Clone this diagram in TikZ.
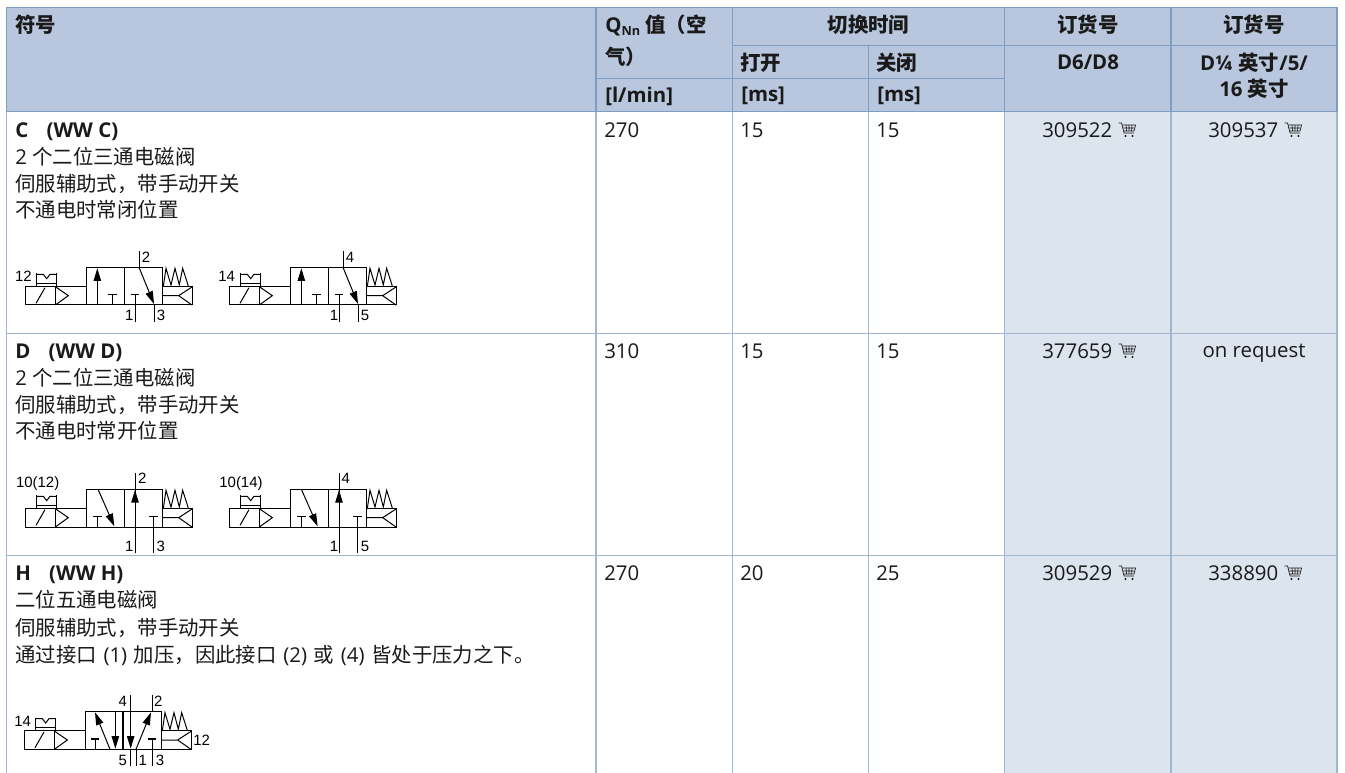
\documentclass[tikz,border=0pt]{standalone}
\usepackage{fontspec}
\usetikzlibrary{arrows.meta,calc}
\setmainfont{Open Sans}
\newfontfamily\cjk{Noto Sans CJK SC}
\newcommand{\zh}[1]{{\cjk #1}}
\newcommand{\gp}{\hspace{5pt}}
\definecolor{headfill}{HTML}{B8C7DD}
\definecolor{cellfill}{HTML}{DCE4EE}
\definecolor{headline}{HTML}{7F9DC2}
\definecolor{cellline}{HTML}{A0B6D3}
\definecolor{ink}{HTML}{1A1A1A}
\tikzset{
  hline/.style={draw=headline,line width=0.9pt},
  cline/.style={draw=cellline,line width=0.9pt},
  txt/.style={anchor=west,inner sep=0pt,text=ink,font=\fontsize{15.3}{18}\selectfont},
  htxt/.style={txt,font=\fontsize{15.3}{18}\selectfont\bfseries},
  hmid/.style={htxt,anchor=center,align=center},
  sym/.style={line width=0.75pt,draw=black,line join=miter},
  tbar/.style={line width=1.15pt,draw=black},
  arr/.style={sym,-{Stealth[inset=0pt,length=9.5pt,width=5.6pt]}},
  port/.style={inner sep=0pt,text=black,font=\fontsize{11.2}{13}\selectfont\fontspec{Liberation Sans}},
  cartline/.style={draw=ink,line width=0.5pt}
}
% solenoid + valve body + spring in crop units (1 unit = 1/3 px)
\newcommand{\vbase}[2]{%
 \begin{scope}[shift={(#1,#2)}]
  \draw[sym] (76,139) rectangle (258,195);
  \draw[sym] (166,139) -- (166,195);
  \draw[sym] (166,140) -- (205,167) -- (166,195);
  \draw[sym] (108,190) -- (135,143);
  \draw[sym] (110,100) -- (110,139) (170,100) -- (170,139) (110,130) -- (170,130);
  \draw[sym] (110,103) -- (130,103) -- (140,116) -- (150,103) -- (170,103);
  \draw[sym] (258,82) rectangle (486,195);
  \draw[sym] (372,82) -- (372,195);
  \draw[sym] (486,139) rectangle (576,195);
  \draw[sym] (486,167) -- (536,167) -- (576,141) (536,167) -- (576,195);
  \draw[sym] (490,139) -- (498,85) -- (513,135) -- (525,85) -- (538,135) -- (548,85) -- (564,135) -- (564,139);
 \end{scope}}
\newcommand{\cartat}[1]{%
 \begin{scope}[shift={#1},x=0.75pt,y=-0.75pt]
  \draw[cartline] (0,-7) -- (3,-7) -- (5.5,3) -- (15.5,3);
  \draw[cartline] (3.5,-5) -- (17,-5) -- (15.5,1) -- (5,1);
  \draw[cartline] (7.5,-5) -- (8,1) (10.5,-5) -- (10.5,1) (13.5,-5) -- (13,1) (4,-2) -- (16.2,-2);
  \fill[ink] (7,6) circle (0.9pt) (14,6) circle (0.9pt);
 \end{scope}}
\begin{document}
\begin{tikzpicture}[x=0.75pt,y=-0.75pt]
\useasboundingbox (0,0) rectangle (1345,773);
\fill[white] (0,0) rectangle (1345,773);
% fills
\fill[headfill] (6.5,7.5) rectangle (1337,111.5);
\fill[cellfill] (1004.5,111.5) rectangle (1337,773);
% body lines
\foreach \x in {6.5,596,732.5,868.5,1004.5,1171,1337} \draw[cline] (\x,111.5) -- (\x,773);
\foreach \y in {333.3,555.7} \draw[cline] (6.5,\y) -- (1337,\y);
% header lines
\draw[hline] (6.5,7.5) rectangle (1337,111.5);
\foreach \x in {596,732.5,1004.5,1171} \draw[hline] (\x,7.5) -- (\x,111.5);
\draw[hline] (868.5,45.5) -- (868.5,111.5);
\draw[hline] (732.5,45.5) -- (1337,45.5);
\draw[hline] (596,78.5) -- (1004.5,78.5);
% header text
\node[htxt] (h1) at (15,25) {\zh{符号}};
\node[htxt] (h2) at (605,25) {Q\raisebox{-0.3ex}{\fontsize{9.5}{10}\selectfont Nn} \zh{值（空}};
\node[htxt] (h2b) at (605,57) {\zh{气）}};
\node[htxt] (h3) at (605,96) {[l/min]};
\node[hmid] (h4) at (868.5,25) {\zh{切换时间}};
\node[htxt] (h5) at (740,63) {\zh{打开}};
\node[htxt] (h6) at (876,63) {\zh{关闭}};
\node[htxt] (h7) at (741,96) {[ms]};
\node[htxt] (h8) at (877,96) {[ms]};
\node[hmid] (h9) at (1088,25) {\zh{订货号}};
\node[hmid] (h10) at (1254,25) {\zh{订货号}};
\node[hmid] (h11) at (1088,62) {D6/D8};
\node[hmid] (h12) at (1254,63) {D¼ \zh{英寸}/5/};
\node[hmid] (h13) at (1254,89) {16 \zh{英寸}};
% row C
\node[htxt] (c0) at (15,131.5) {C\hspace{0.9em}(WW C)};
\node[txt] (c1) at (15,157) {2 \zh{个二位三通电磁阀}};
\node[txt] (c2) at (15,184) {\zh{伺服辅助式，带手动开关}};
\node[txt] (c3) at (15,210) {\zh{不通电时常闭位置}};
\node[txt] (cq) at (604,130) {270};
\node[txt] (ca) at (740,130) {15};
\node[txt] (cb) at (876,130) {15};
\node[txt] (co1) at (1042,130) {309522};
\node[txt] (co2) at (1208,130) {309537};
\cartat{($(co1.east)+(6,0)$)}
\cartat{($(co2.east)+(6,0)$)}
% row D
\node[htxt] (d0) at (15,352.5) {D\hspace{0.9em}(WW D)};
\node[txt] (d1) at (15,378) {2 \zh{个二位三通电磁阀}};
\node[txt] (d2) at (15,405) {\zh{伺服辅助式，带手动开关}};
\node[txt] (d3) at (15,431) {\zh{不通电时常开位置}};
\node[txt] (dq) at (604,351) {310};
\node[txt] (da) at (740,351) {15};
\node[txt] (db) at (876,351) {15};
\node[txt] (do1) at (1042,351) {377659};
\node[txt,anchor=base] (do2) at (1254,357.5) {on request};
\cartat{($(do1.east)+(6,0)$)}
% row H
\node[htxt] (e0) at (15,574.5) {H\hspace{0.9em}(WW H)};
\node[txt] (e1) at (15,600) {\zh{二位五通电磁阀}};
\node[txt] (e2) at (15,628) {\zh{伺服辅助式，带手动开关}};
\node[txt] (e3) at (15,655) {\zh{通过接口}\gp(1)\gp\zh{加压，因此接口}\gp(2)\gp\zh{或}\gp(4)\gp\zh{皆处于压力之下。}};
\node[txt] (eq) at (604,573) {270};
\node[txt] (ea) at (740,573) {20};
\node[txt] (eb) at (876,573) {25};
\node[txt] (eo1) at (1042,573) {309529};
\node[txt] (eo2) at (1208,573) {338890};
\cartat{($(eo1.east)+(6,0)$)}
\cartat{($(eo2.east)+(6,0)$)}
% symbol C1
\begin{scope}[shift={(0,240)},x=0.25pt,y=-0.25pt]
 \vbase{0}{0}
 \draw[arr] (292,195) -- (292,85);
 \draw[sym] (337,195) -- (337,163);
 \draw[tbar] (325,163) -- (350,163);
 \draw[tbar] (393,163) -- (418,163);
 \draw[sym] (405,163) -- (405,245);
 \draw[sym] (417,33) -- (417,82);
 \draw[arr] (417,82) -- (462,192);
 \draw[sym] (462,195) -- (462,245);
 \node[port] (s1a) at (70,110) {12};
 \node[port] (s1b) at (438,52) {2};
 \node[port] (s1c) at (388,225) {1};
 \node[port] (s1d) at (483,225) {3};
\end{scope}
% symbol C2
\begin{scope}[shift={(210,240)},x=0.25pt,y=-0.25pt]
 \vbase{-18}{0}
 \draw[arr] (274,195) -- (274,85);
 \draw[sym] (319,195) -- (319,163);
 \draw[tbar] (307,163) -- (332,163);
 \draw[tbar] (375,163) -- (400,163);
 \draw[sym] (387,163) -- (387,245);
 \draw[sym] (399,33) -- (399,82);
 \draw[arr] (399,82) -- (444,192);
 \draw[sym] (444,195) -- (444,245);
 \node[port] (s2a) at (50,110) {14};
 \node[port] (s2b) at (420,52) {4};
 \node[port] (s2c) at (372,225) {1};
 \node[port] (s2d) at (465,225) {5};
\end{scope}
% symbol D1
\begin{scope}[shift={(0,465)},x=0.25pt,y=-0.25pt]
 \vbase{0}{-9}
 \draw[arr] (295,75) -- (343,184);
 \draw[sym] (292,187) -- (292,155);
 \draw[tbar] (280,155) -- (305,155);
 \draw[sym] (405,265) -- (405,25);
 \draw[arr] (405,187) -- (405,75);
 \draw[tbar] (448,155) -- (473,155);
 \draw[sym] (460,155) -- (460,265);
 \node[port] (s3a) at (113,57) {10(12)};
 \node[port] (s3b) at (427,40) {2};
 \node[port] (s3c) at (388,243) {1};
 \node[port] (s3d) at (482,243) {3};
\end{scope}
% symbol D2
\begin{scope}[shift={(210,465)},x=0.25pt,y=-0.25pt]
 \vbase{-18}{-9}
 \draw[arr] (275,75) -- (323,184);
 \draw[sym] (274,187) -- (274,155);
 \draw[tbar] (262,155) -- (287,155);
 \draw[sym] (387,265) -- (387,25);
 \draw[arr] (387,187) -- (387,75);
 \draw[tbar] (430,155) -- (455,155);
 \draw[sym] (442,155) -- (442,265);
 \node[port] (s4a) at (93,57) {10(14)};
 \node[port] (s4b) at (407,40) {4};
 \node[port] (s4c) at (372,243) {1};
 \node[port] (s4d) at (465,243) {5};
\end{scope}
% symbol H
\begin{scope}[shift={(0,680)},x=0.25pt,y=-0.25pt]
 \vbase{-3}{13}
 \draw[sym] (368,95) -- (368,208);
 \draw[arr] (330,208) -- (285,97);
 \draw[sym] (285,208) -- (285,177);
 \draw[tbar] (272,177) -- (297,177);
 \draw[arr] (346,95) -- (346,206);
 \draw[sym] (392,45) -- (392,95);
 \draw[arr] (392,95) -- (392,206);
 \draw[arr] (408,208) -- (453,97);
 \draw[tbar] (443,177) -- (468,177);
 \draw[sym] (456,177) -- (456,258);
 \draw[sym] (456,45) -- (456,95);
 \draw[sym] (390,208) -- (390,258) (408,208) -- (408,258);
 \node[port] (s5a) at (68,125) {14};
 \node[port] (s5b) at (368,65) {4};
 \node[port] (s5c) at (475,65) {2};
 \node[port] (s5d) at (368,240) {5};
 \node[port] (s5e) at (428,240) {1};
 \node[port] (s5f) at (480,240) {3};
 \node[port] (s5g) at (605,182) {12};
\end{scope}
\end{tikzpicture}
\end{document}
